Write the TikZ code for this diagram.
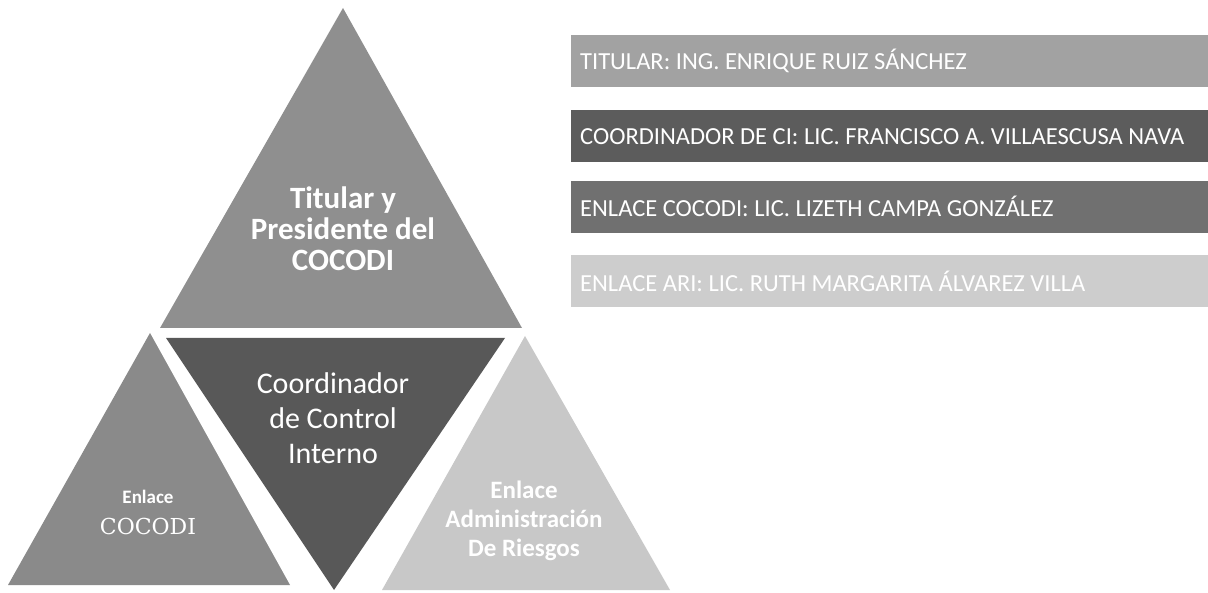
\documentclass[tikz,border=0pt]{standalone}
\usepackage{fontspec}
\setmainfont{Carlito}
\newfontfamily\cocodifont{DejaVu Serif}
\usetikzlibrary{positioning}
\definecolor{TopGray}{RGB}{143,143,143}
\definecolor{MidGray}{RGB}{88,88,88}
\definecolor{LeftGray}{RGB}{138,138,138}
\definecolor{RightGray}{RGB}{200,200,200}
\definecolor{BarOne}{RGB}{162,162,162}
\definecolor{BarTwo}{RGB}{92,92,92}
\definecolor{BarThree}{RGB}{112,112,112}
\definecolor{BarFour}{RGB}{205,205,205}
\tikzstyle{Bar} = [rectangle, anchor=west, minimum width=637pt, minimum height=52pt, inner xsep=9pt, text width=619pt, align=flush left, text=white, font=\frenchspacing\fontsize{24.5}{28}\selectfont]
\tikzstyle{Caption} = [text=white, align=center]

\begin{document}
\begin{tikzpicture}[x=1pt,y=-1pt]
    \useasboundingbox (0,0) rectangle (1208,593);
    % pyramid
    \fill[TopGray]   (343,8)   -- (522,328) -- (160,328) -- cycle;
    \fill[MidGray]   (166,338) -- (505,338) -- (334,590) -- cycle;
    \fill[LeftGray]  (150,333) -- (290,585) -- (8,585)   -- cycle;
    \fill[RightGray] (525,336) -- (670,590) -- (382,590) -- cycle;
    \node[Caption, font=\bfseries\fontsize{31}{31}\selectfont] (titular)     at (343,229) {Titular y\\Presidente del\\COCODI};
    \node[Caption, font=\fontsize{30}{35}\selectfont]          (coordinador) at (333,418) {Coordinador\\de Control\\Interno};
    \node[Caption, font=\bfseries\fontsize{19}{31}\selectfont] (enlace)      at (148,512) {Enlace\\{\cocodifont\mdseries\fontsize{22}{31}\selectfont COCODI}};
    \node[Caption, font=\bfseries\fontsize{25}{29}\selectfont] (riesgos)     at (524,521) {Enlace\\Administración\\De Riesgos};
    % names
    \node[Bar, fill=BarOne]   (titularbar)     at (571,61) {TITULAR: ING. ENRIQUE RUIZ SÁNCHEZ};
    \node[Bar, fill=BarTwo]   (coordinadorbar) [below=23pt of titularbar.south west, anchor=north west]     {COORDINADOR DE CI: LIC. FRANCISCO A. VILLAESCUSA NAVA};
    \node[Bar, fill=BarThree] (enlacebar)      [below=18pt of coordinadorbar.south west, anchor=north west] {ENLACE COCODI: LIC. LIZETH CAMPA GONZÁLEZ};
    \node[Bar, fill=BarFour]  (aribar)         [below=22pt of enlacebar.south west, anchor=north west]      {ENLACE ARI: LIC. RUTH MARGARITA ÁLVAREZ VILLA};
\end{tikzpicture}
\end{document}
